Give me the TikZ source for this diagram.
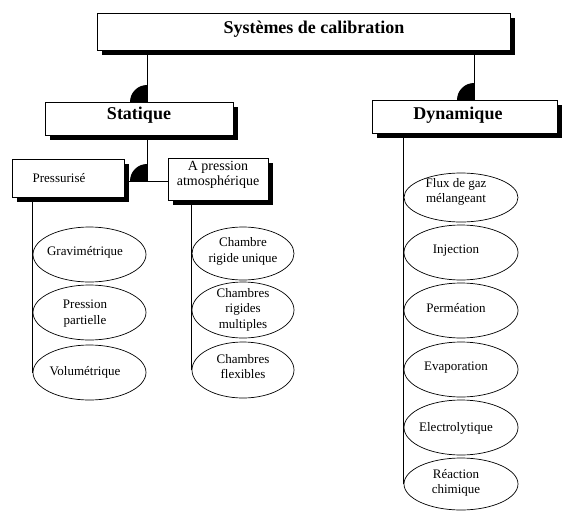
\documentclass[tikz,border=0pt]{standalone}
\usepackage{fontspec}
\setmainfont{Liberation Serif}
\usetikzlibrary{shapes.geometric,shadows}
\newcommand\ftitle{\fontsize{18}{21}\selectfont\bfseries}
\newcommand\fsmall{\fontsize{13}{15.5}\selectfont}
\newcommand\fmid{\fontsize{14}{15}\selectfont}
\newcommand\mytab[1]{\begin{tabular}{@{}c@{}}#1\end{tabular}}
\begin{document}
\begin{tikzpicture}[x=1pt,y=-1pt,
  box/.style={draw, line width=0.7pt, fill=white, inner sep=0pt,
    drop shadow={shadow xshift=4.5pt, shadow yshift=-4.5pt, opacity=1, fill=black}},
  ell/.style={ellipse, draw, line width=0.7pt, fill=white, inner sep=0pt, font=\fsmall},
  lcol/.style={ell, minimum width=113pt},
  mcol/.style={ell, minimum width=102pt},
  rcol/.style={ell, minimum width=114pt},
  conn/.style={line width=0.8pt},
  blob/.style={fill=black}]
\useasboundingbox (0,0) rectangle (563,512);
% boxes
\node[box, minimum width=413pt, minimum height=37pt, font=\ftitle, text height=17.5pt, text depth=12.5pt]
  (top) at (303.5,31.5) {\hspace*{21pt}\mytab{Systèmes de calibration}};
\node[box, minimum width=188pt, minimum height=33pt, font=\ftitle, text height=16.5pt, text depth=13.5pt]
  (stat) at (139,118.5) {\mytab{Statique}};
\node[box, minimum width=185pt, minimum height=33pt, font=\ftitle, text height=18pt, text depth=12pt]
  (dyn) at (464.5,116.5) {\hspace*{-13pt}\mytab{Dynamique}};
\node[box, minimum width=112pt, minimum height=38pt, font=\fsmall, text height=19.5pt, text depth=10.5pt]
  (press) at (68,178) {\hspace*{-18pt}\mytab{Pressurisé}};
\node[box, minimum width=100pt, minimum height=42pt, font=\fmid, text height=14.25pt, text depth=15.75pt]
  (atm) at (218,179) {\mytab{A pression\\atmosphérique}};
% left column
\node[lcol, minimum height=55pt, text height=15.75pt, text depth=14.25pt] (e1) at (89.5,254.5) {\hspace*{-9pt}\mytab{Gravimétrique}};
\node[lcol, minimum height=55pt, text height=18.75pt, text depth=11.25pt] (e2) at (89.5,312.5) {\hspace*{-9pt}\mytab{Pression\\partielle}};
\node[lcol, minimum height=55pt, text height=17.75pt, text depth=12.25pt] (e3) at (89.5,372.5) {\hspace*{-9pt}\mytab{Volumétrique}};
% middle column
\node[mcol, minimum height=53pt, text height=16pt, text depth=14pt] (m1) at (243,253.5) {\mytab{Chambre\\rigide unique}};
\node[mcol, minimum height=56pt, text height=17.5pt, text depth=12.5pt] (m2) at (243,310) {\mytab{Chambres\\rigides\\multiples}};
\node[mcol, minimum height=56pt, text height=16pt, text depth=14pt] (m3) at (243,370) {\mytab{Chambres\\flexibles}};
% right column
\node[rcol, minimum height=49pt, text height=12.5pt, text depth=17.5pt] (r1) at (461,197.5) {\hspace*{-10pt}\mytab{Flux de gaz\\mélangeant}};
\node[rcol, minimum height=55pt, text height=16.25pt, text depth=13.75pt] (r2) at (461,252.5) {\hspace*{-10pt}\mytab{Injection}};
\node[rcol, minimum height=55pt, text height=17.25pt, text depth=12.75pt] (r3) at (461,310.5) {\hspace*{-10pt}\mytab{Perméation}};
\node[rcol, minimum height=55pt, text height=16.25pt, text depth=13.75pt] (r4) at (461,369.5) {\hspace*{-10pt}\mytab{Evaporation}};
\node[rcol, minimum height=55pt, text height=18.75pt, text depth=11.25pt] (r5) at (461,427.5) {\hspace*{-10pt}\mytab{Electrolytique}};
\node[rcol, minimum height=52pt, text height=16.75pt, text depth=13.25pt] (r6) at (461,484) {\hspace*{-10pt}\mytab{Réaction\\chimique}};
% junctions
\coordinate (j1) at (147,102);
\coordinate (j2) at (474,100);
\coordinate (j3) at (147,181);
% connectors
\draw[conn] (top.south -| j1) -- (j1);
\draw[conn] (top.south -| j2) -- (j2);
\draw[conn] (stat.south -| j3) -- (j3);
\draw[conn] (press.east |- j3) -- (atm.west |- j3);
\draw[conn] (press.south -| e1.west) -- (e3.west);
\draw[conn] (atm.south -| m1.west) -- (m3.west);
\draw[conn] (dyn.south -| r1.west) -- (r6.west);
% quarter discs
\foreach \j in {j1,j2,j3}
  \fill[blob] (\j) -- ++(-17pt,0pt) arc[start angle=180, end angle=90, radius=17pt] -- cycle;
\end{tikzpicture}
\end{document}
